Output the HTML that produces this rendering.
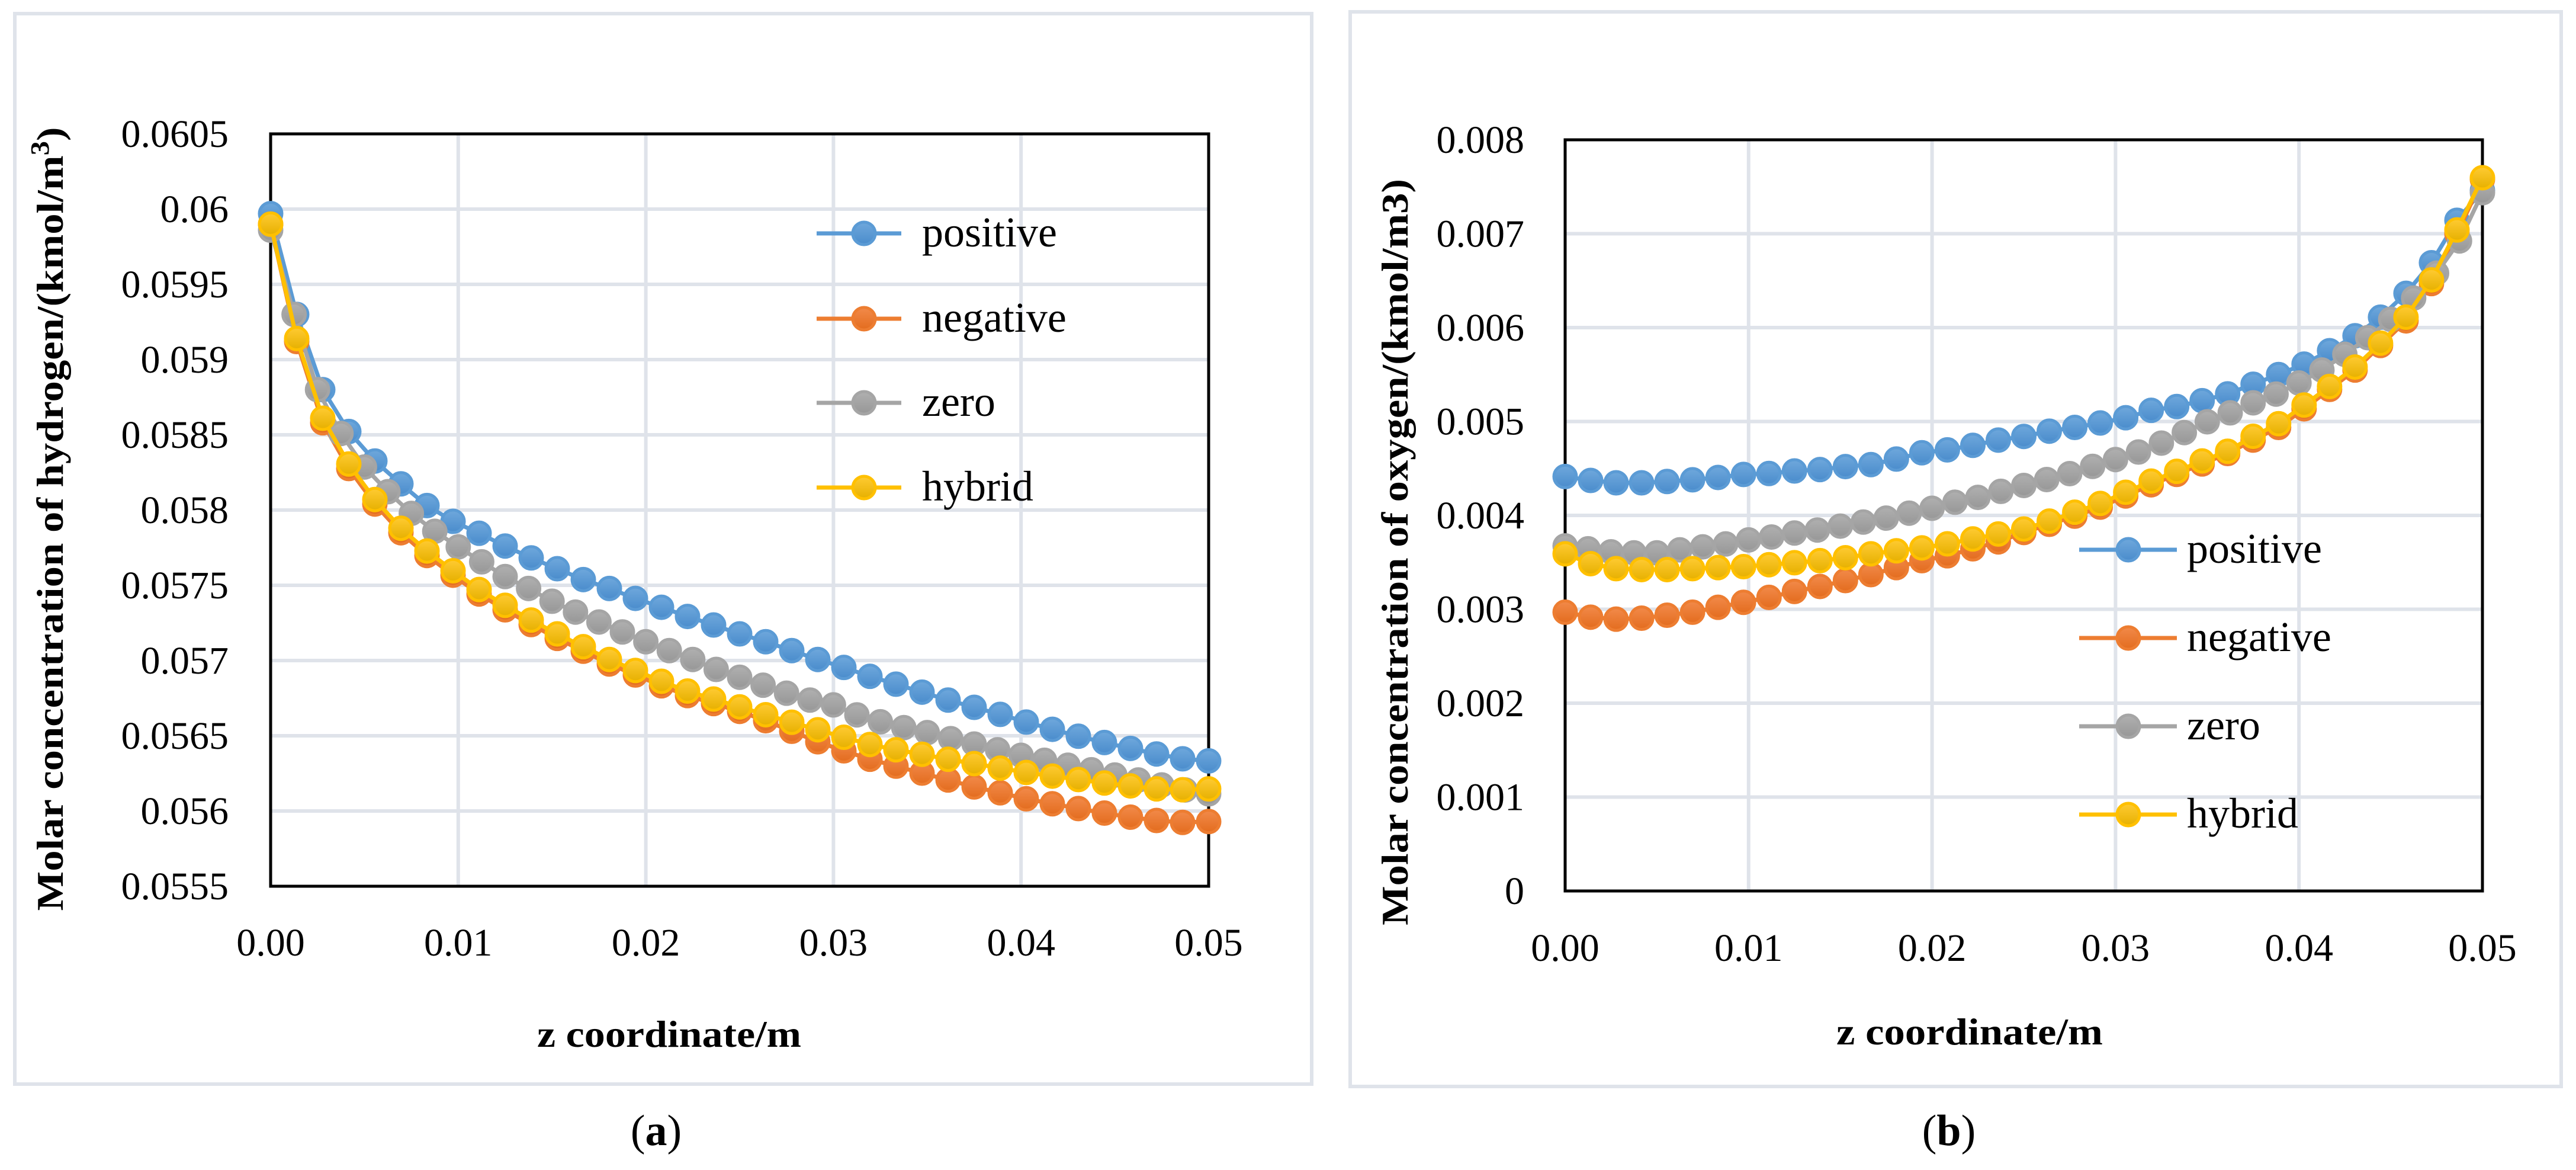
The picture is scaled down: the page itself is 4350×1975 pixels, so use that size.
<!DOCTYPE html>
<html><head><meta charset="utf-8"><style>
html,body{margin:0;padding:0;background:#fff;}
svg{display:block;}
text{font-family:"Liberation Serif",serif;fill:#000;}
</style></head><body>
<svg id="fig" width="4350" height="1975" viewBox="0 0 4350 1975" xmlns="http://www.w3.org/2000/svg">
<defs>
<linearGradient id="gBlue" x1="0" y1="0" x2="0" y2="1"><stop offset="0" stop-color="#6fa8dc"/><stop offset="1" stop-color="#4a8ccc"/></linearGradient>
<linearGradient id="gOrange" x1="0" y1="0" x2="0" y2="1"><stop offset="0" stop-color="#f28a4a"/><stop offset="1" stop-color="#e36c1e"/></linearGradient>
<linearGradient id="gGray" x1="0" y1="0" x2="0" y2="1"><stop offset="0" stop-color="#b0b0b0"/><stop offset="1" stop-color="#979797"/></linearGradient>
<linearGradient id="gYellow" x1="0" y1="0" x2="0" y2="1"><stop offset="0" stop-color="#ffcb33"/><stop offset="1" stop-color="#e6b000"/></linearGradient>
</defs>
<rect x="25" y="23" width="2190" height="1807" fill="none" stroke="#dfe3ea" stroke-width="6"/>
<rect x="2280" y="20" width="2045" height="1814" fill="none" stroke="#dfe3ea" stroke-width="6"/>
<g id="chartA"></g>
<g id="chartB"></g>
<text x="1108" y="1933" font-size="74" text-anchor="middle">(<tspan font-weight="bold">a</tspan>)</text>
<text x="3291" y="1933" font-size="74" text-anchor="middle">(<tspan font-weight="bold">b</tspan>)</text>
</svg>
<script>
const seriesNames = ["positive","negative","zero","hybrid"];
const xTicks = [0,0.01,0.02,0.03,0.04,0.05];
const xTickLabels = ["0.00","0.01","0.02","0.03","0.04","0.05"];
const xMax = 0.05;
const h2Ticks = [0.0555,0.056,0.0565,0.057,0.0575,0.058,0.0585,0.059,0.0595,0.06,0.0605];
const h2TickLabels = ["0.0555","0.056","0.0565","0.057","0.0575","0.058","0.0585","0.059","0.0595","0.06","0.0605"];
const h2Positive = [0.05997,0.05930,0.05880,0.058522,0.058326,0.058174,0.05803,0.057925,0.057846,0.057761,0.057682,0.05761,0.057538,0.057479,0.057413,0.057354,0.057293,0.057236,0.057177,0.057125,0.057066,0.057007,0.056954,0.056895,0.056843,0.05679,0.056737,0.056689,0.056642,0.056591,0.056543,0.056497,0.056455,0.056416,0.056379,0.056347,0.056333];
const h2Negative = [0.05990,0.05912,0.05858,0.058276,0.05804,0.057849,0.057698,0.057567,0.057442,0.057337,0.057239,0.057147,0.057062,0.056977,0.056904,0.056832,0.056767,0.056714,0.056662,0.05660,0.05653,0.05646,0.05640,0.056344,0.056298,0.056252,0.056206,0.05616,0.056121,0.056081,0.056048,0.056016,0.055986,0.055959,0.055937,0.055924,0.05593];
const h2Zero = [0.05986,0.05930,0.05880,0.058509,0.058286,0.058122,0.057978,0.057859,0.057755,0.057656,0.057558,0.057479,0.057394,0.057322,0.057256,0.05719,0.057125,0.057066,0.057007,0.056941,0.056889,0.056836,0.056783,0.056737,0.056705,0.056639,0.056593,0.056554,0.056521,0.056481,0.056445,0.056407,0.05637,0.056337,0.056304,0.056274,0.056239,0.056206,0.056173,0.05614,0.056114];
const h2Hybrid = [0.05990,0.05914,0.05861,0.058306,0.05807,0.057879,0.057728,0.057597,0.057472,0.057367,0.057269,0.057177,0.057092,0.057007,0.056934,0.056862,0.056797,0.056744,0.056692,0.05664,0.05659,0.05654,0.05649,0.056442,0.056407,0.056377,0.056344,0.056315,0.056285,0.056256,0.056232,0.056209,0.056186,0.056167,0.056147,0.056141,0.056147];
const o2Ticks = [0,0.001,0.002,0.003,0.004,0.005,0.006,0.007,0.008];
const o2TickLabels = ["0","0.001","0.002","0.003","0.004","0.005","0.006","0.007","0.008"];
const o2Positive = [4.414,4.372,4.347,4.347,4.361,4.379,4.404,4.436,4.446,4.473,4.488,4.520,4.541,4.600,4.667,4.698,4.746,4.802,4.841,4.897,4.937,4.984,5.040,5.119,5.159,5.222,5.294,5.397,5.500,5.611,5.754,5.913,6.111,6.365,6.691,7.143,7.461];
const o2Negative = [2.969,2.916,2.895,2.905,2.937,2.969,3.021,3.074,3.127,3.190,3.243,3.306,3.369,3.444,3.518,3.570,3.644,3.718,3.818,3.905,3.992,4.088,4.207,4.326,4.437,4.548,4.659,4.802,4.937,5.135,5.342,5.548,5.810,6.072,6.469,7.000,7.580];
const o2Zero = [3.675,3.644,3.612,3.601,3.601,3.633,3.665,3.696,3.739,3.770,3.812,3.844,3.886,3.929,3.971,4.024,4.076,4.140,4.192,4.256,4.319,4.382,4.445,4.522,4.595,4.675,4.770,4.882,4.997,5.092,5.199,5.292,5.410,5.548,5.715,5.893,6.088,6.314,6.580,6.923,7.437];
const o2Hybrid = [3.591,3.486,3.433,3.423,3.423,3.433,3.444,3.454,3.475,3.496,3.518,3.549,3.591,3.623,3.654,3.697,3.749,3.802,3.855,3.939,4.034,4.127,4.246,4.365,4.469,4.580,4.683,4.842,4.976,5.175,5.373,5.580,5.834,6.111,6.508,7.040,7.596];
const o2Scale = 0.001;

const NS = "http://www.w3.org/2000/svg";
const colors = ["#5b9bd5","#ed7d31","#a5a5a5","#ffc000"];
const grads = ["url(#gBlue)","url(#gOrange)","url(#gGray)","url(#gYellow)"];
function mk(parent, tag, attrs){
  const e = document.createElementNS(NS, tag);
  for (const k in attrs) e.setAttribute(k, attrs[k]);
  parent.appendChild(e);
  return e;
}
function drawChart(g, cfg){
  const {L,R,T,B,yMin,yMax,yTicks,yLabels,series,legend,yTitle,yTitleX,yTitleY,yTitleLen,xTitleX,xTitleLen,xTitleY,tickRight,xLabelY,key} = cfg;
  const sx = v => L + (v/xMax)*(R-L);
  const sy = v => B - (v-yMin)/(yMax-yMin)*(B-T);
  yTicks.forEach((t,i)=>{
    if (i>0 && i<yTicks.length-1){
      const gl = mk(g,"line",{x1:L,x2:R,y1:sy(t),y2:sy(t),stroke:"#dfe3ea","stroke-width":6});
      
      
    }
    const tl = mk(g,"text",{x:tickRight,y:sy(t)+22,"font-size":66,"text-anchor":"end"});
    tl.textContent = yLabels[i];
    
    
  });
  xTicks.forEach((t,i)=>{
    if (i>0 && i<xTicks.length-1){
      const gl = mk(g,"line",{x1:sx(t),x2:sx(t),y1:T,y2:B,stroke:"#dfe3ea","stroke-width":6});
      
      
    }
    const tl = mk(g,"text",{x:sx(t),y:xLabelY,"font-size":66,"text-anchor":"middle"});
    tl.textContent = xTickLabels[i];
    
    
  });
  const fr = mk(g,"rect",{x:L,y:T,width:R-L,height:B-T,fill:"none",stroke:"#000","stroke-width":5});
  
  
  series.forEach((vals,si)=>{
    const sg = mk(g,"g",{});
    
    
    const pts = vals.map((v,i)=>[sx(i*xMax/(vals.length-1)), sy(v)]);
    const pl = mk(sg,"polyline",{points:pts.map(p=>p.join(",")).join(" "),fill:"none",stroke:colors[si],"stroke-width":7,"stroke-linejoin":"round"});
    
    
    pts.forEach(p=>{
      const c = mk(sg,"circle",{cx:p[0],cy:p[1],r:19,fill:grads[si],stroke:colors[si],"stroke-width":5});
      
      
    });
  });
  seriesNames.forEach((n,si)=>{
    const y = legend.ys[si];
    const lg = mk(g,"g",{});
    
    
    mk(lg,"line",{x1:legend.x1,x2:legend.x2,y1:y,y2:y,stroke:colors[si],"stroke-width":7});
    mk(lg,"circle",{cx:legend.mx,cy:y,r:19,fill:grads[si],stroke:colors[si],"stroke-width":5});
    const t = mk(lg,"text",{x:legend.tx,y:y+22,"font-size":72});
    t.textContent = n;
  });
  const yt = mk(g,"text",{x:0,y:0,"font-size":64,"font-weight":"bold","text-anchor":"middle",transform:`translate(${yTitleX},${yTitleY}) rotate(-90)`,textLength:yTitleLen,lengthAdjust:"spacingAndGlyphs"});
  yt.innerHTML = yTitle;
  
  
  const xt = mk(g,"text",{x:xTitleX,y:xTitleY,"font-size":64,"font-weight":"bold","text-anchor":"middle",textLength:xTitleLen,lengthAdjust:"spacingAndGlyphs"});
  xt.textContent = "z coordinate/m";
  
  
}
drawChart(document.getElementById("chartA"),{
  key:"h2",L:457,R:2041,T:226,B:1496,yMin:0.0555,yMax:0.0605,yTicks:h2Ticks,yLabels:h2TickLabels,
  series:[h2Positive,h2Negative,h2Zero,h2Hybrid],
  legend:{x1:1379,x2:1522,mx:1459,tx:1557,ys:[394,538,680,823]},
  yTitle:"Molar concentration of hydrogen/(kmol/m<tspan baseline-shift=\"super\" font-size=\"44\">3</tspan>)",
  yTitleX:106,yTitleY:876,yTitleLen:1323,xTitleX:1130,xTitleY:1767,xTitleLen:446,tickRight:386,xLabelY:1613
});
drawChart(document.getElementById("chartB"),{
  key:"o2",L:2643,R:4192,T:236,B:1504,yMin:0,yMax:0.008,yTicks:o2Ticks,yLabels:o2TickLabels,
  series:[o2Positive,o2Negative,o2Zero,o2Hybrid].map(a=>a.map(v=>v*o2Scale)),
  legend:{x1:3511,x2:3676,mx:3594,tx:3693,ys:[928,1077,1226,1375]},
  yTitle:"Molar concentration of oxygen/(kmol/m3)",
  yTitleX:2377,yTitleY:932,yTitleLen:1260,xTitleX:3326,xTitleY:1763,xTitleLen:450,tickRight:2574,xLabelY:1622
});
</script>
</body></html>
